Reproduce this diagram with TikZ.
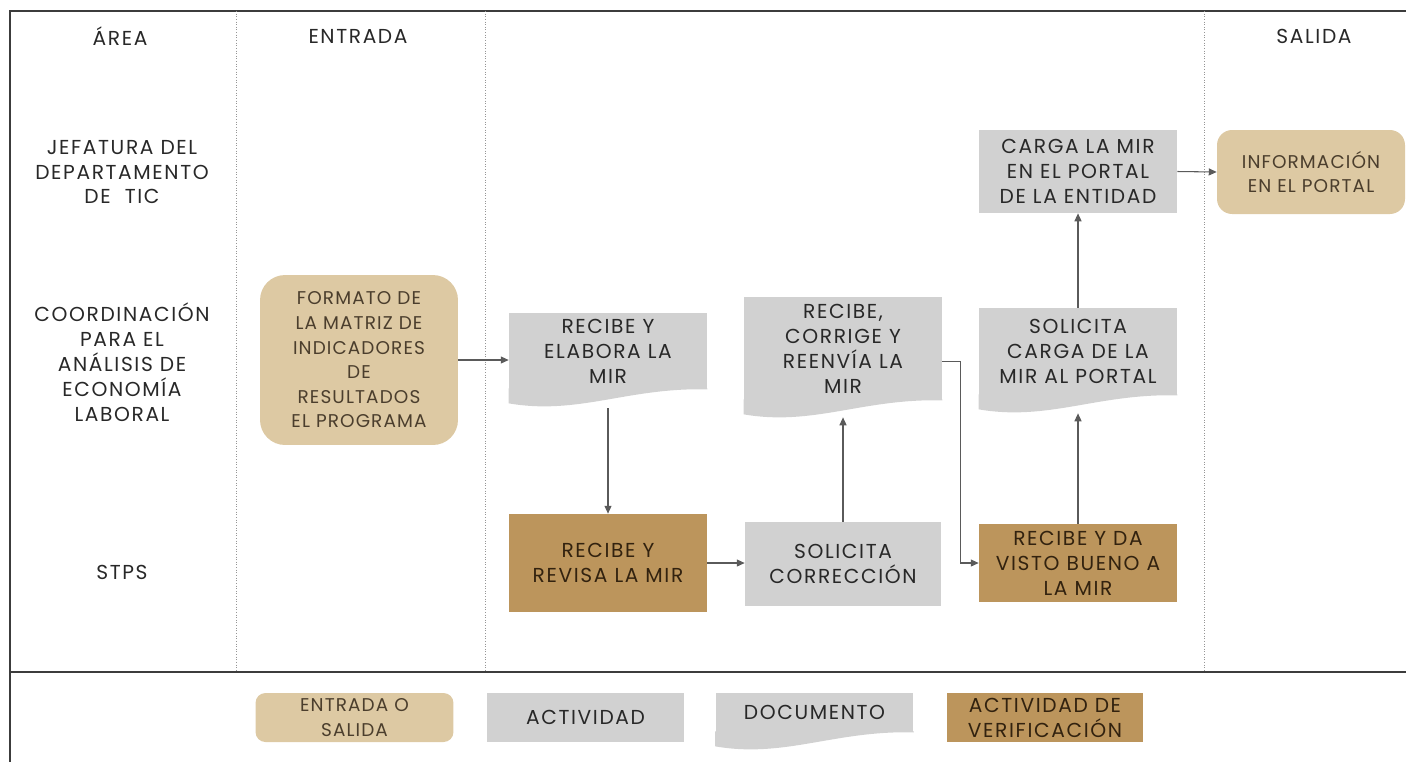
\documentclass[tikz,border=0pt]{standalone}
\usepackage{fontspec}
\setmainfont[LetterSpace=8]{Poppins}
\newfontfamily\entradafont[LetterSpace=6]{Poppins}
\usepackage{tikz}
\usetikzlibrary{arrows.meta}
\usetikzlibrary{calc}
\usetikzlibrary{positioning}

\definecolor{marcoGris}{RGB}{60,60,60}
\definecolor{carrilGris}{RGB}{150,150,150}
\definecolor{textoGris}{RGB}{40,40,40}
\definecolor{cafeTexto}{RGB}{50,34,15}
\definecolor{entradaTexto}{RGB}{75,62,45}
\definecolor{entradaFill}{RGB}{221,201,163}
\definecolor{oroFill}{RGB}{188,149,92}
\definecolor{grisFill}{RGB}{209,209,209}
\definecolor{flechaGris}{RGB}{90,90,90}

\tikzset{
    marco/.style={draw=marcoGris, line width=1.1pt},
    carril/.style={draw=carrilGris, densely dotted, line width=0.5pt},
    etiqueta/.style={align=center, text=textoGris},
    caja/.style={align=center, inner sep=0pt, minimum width=3.96cm, text=textoGris},
    entrada/.style={caja, fill=entradaFill, text=entradaTexto,
        font=\entradafont\fontsize{10.5}{14}\selectfont},
    actividad/.style={caja, fill=grisFill},
    documento/.style={caja, fill=grisFill},
    verifica/.style={caja, fill=oroFill, text=cafeTexto},
    flecha/.style={draw=flechaGris, line width=0.6pt, -{Triangle[length=4.5pt,width=4pt]}}
}

% relleno ondulado bajo un documento
\newcommand{\onda}[1]{%
    \fill[grisFill] (#1.south west) ++(0,-1) -- ++(0,15)
        .. controls +(70,12) and +(-80,-2) .. (#1.south east) -- ++(0,-1) -- cycle;}

\begin{document}
\begin{tikzpicture}[x=0.02cm, y=-0.02cm, font=\fontsize{11.5}{14.2}\selectfont]
    \useasboundingbox (0,0) rectangle (1406,762);

    % marco y carriles
    \draw[marco] (1406,11) -- (10,11) -- (10,762);
    \draw[marco] (10,672) -- (1406,672);
    \foreach \x in {236,485,1204}
        \draw[carril] (\x,11) -- (\x,672);

    \node[etiqueta] (area) at (120,36) {ÁREA};
    \node[etiqueta] (ent) at (358,36) {ENTRADA};
    \node[etiqueta] (sal) at (1314,36) {SALIDA};

    \node[etiqueta] (jef) at (122,172) {JEFATURA DEL\\DEPARTAMENTO\\DE\ \ TIC};
    \node[etiqueta] (coord) at (122,362) {COORDINACIÓN\\PARA EL\\ANÁLISIS DE\\ECONOMÍA\\LABORAL};
    \node[etiqueta] (stps) at (122,572) {STPS};

    % cajas del proceso
    \node[entrada, rounded corners=0.5cm, minimum height=3.4cm] (fmt) at (359,360)
        {FORMATO DE\\LA MATRIZ DE\\INDICADORES\\DE\\RESULTADOS\\EL PROGRAMA};

    \node[documento, minimum height=1.52cm] (elab) at (608,351) {RECIBE Y\\ELABORA LA\\MIR};
    \onda{elab}
    \node[verifica, minimum height=1.96cm] (rev) at (608,563) {RECIBE Y\\REVISA LA MIR};
    \node[actividad, minimum width=3.92cm, minimum height=1.68cm] (sol) at (843,564) {SOLICITA\\CORRECCIÓN};

    \node[documento, minimum height=2.06cm] (corr) at (843,348.5) {RECIBE,\\CORRIGE Y\\REENVÍA LA\\MIR};
    \onda{corr}
    \node[verifica, minimum height=1.56cm] (visto) at (1078,563) {RECIBE Y DA\\VISTO BUENO A\\LA MIR};
    \node[documento, minimum height=1.74cm] (pide) at (1078,351.5) {SOLICITA\\CARGA DE LA\\MIR AL PORTAL};
    \onda{pide}
    \node[actividad, minimum height=1.66cm] (carga) at (1078,171.5) {CARGA LA MIR\\EN EL PORTAL\\DE LA ENTIDAD};
    \node[entrada, rounded corners=0.3cm, minimum width=3.76cm, minimum height=1.68cm] (info) at (1311,172)
        {INFORMACIÓN\\EN EL PORTAL};

    % flechas
    \draw[flecha] (fmt.east) -- (fmt.east -| elab.west);
    \draw[flecha] ($(elab.south)+(0,19)$) -- (rev.north);
    \draw[flecha] (rev.east) -- (rev.east -| sol.west);
    \draw[flecha] (sol.north) -- ($(corr.south)+(0,17)$);
    \draw[flecha] ($(corr.east)+(0,13)$) -- ++(18,0) |- (visto.west);
    \draw[flecha] (visto.north) -- ($(pide.south)+(0,18)$);
    \draw[flecha] (pide.north) -- (carga.south);
    \draw[flecha] (carga.east) -- (info.west);

    % leyenda
    \node[entrada, rounded corners=0.2cm, minimum height=0.98cm] (leg1) at (354.5,717.5) {ENTRADA O\\SALIDA};
    \node[actividad, minimum height=0.98cm] (leg2) at (585.5,717.5) {ACTIVIDAD};
    \node[documento, minimum height=0.78cm] (leg3) at (814.5,712.5) {DOCUMENTO};
    \onda{leg3}
    \node[verifica, minimum width=3.92cm, minimum height=0.98cm] (leg4) at (1045,717.5) {ACTIVIDAD DE\\VERIFICACIÓN};
\end{tikzpicture}
\end{document}
